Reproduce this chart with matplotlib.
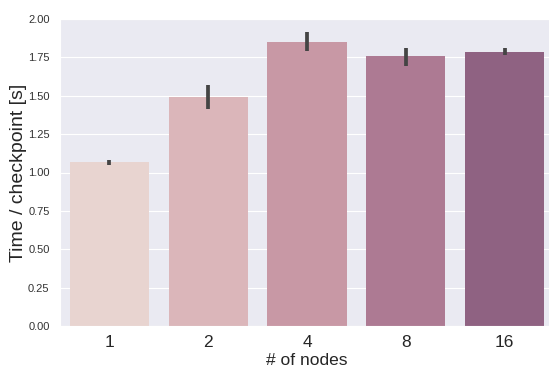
import matplotlib.pyplot as plt
import seaborn as sns
import numpy as np

sns.set_style("darkgrid")
plt.rcParams["font.family"] = ["Liberation Sans", "DejaVu Sans"]

# Mean checkpoint time per node count, with CI bounds
nodes = ["1", "2", "4", "8", "16"]
mean_time = [1.068, 1.492, 1.850, 1.759, 1.785]
ci_low = [1.048, 1.414, 1.790, 1.692, 1.763]
ci_high = [1.082, 1.570, 1.913, 1.813, 1.809]
colors = ["#e8d4d0", "#dbb6ba", "#c898a5", "#ad7a93", "#8f6282"]

fig = plt.figure(figsize=(5.49, 3.67), dpi=100)
ax = fig.add_axes([60 / 549, 41 / 367, 494 / 549, 307 / 367])

x = np.arange(len(nodes))
ax.bar(x, mean_time, width=0.8, color=colors, linewidth=0, zorder=2)
ax.vlines(x, ci_low, ci_high, color="#444444", linewidth=2.7,
          capstyle="butt", zorder=3)

ax.set_xlim(-0.5, len(nodes) - 0.5)
ax.set_ylim(0, 2.0)
ax.set_yticks(np.arange(0, 2.01, 0.25))
ax.set_xticks(x)
ax.set_xticklabels(nodes, fontsize=12.5)
ax.tick_params(axis="y", labelsize=8, pad=4, labelcolor="#333333")
ax.tick_params(axis="x", pad=3, labelcolor="#262626")
ax.xaxis.grid(False)
ax.set_xlabel("# of nodes", fontsize=12.5, labelpad=2, color="#262626")
ax.set_ylabel("Time / checkpoint [s]", fontsize=14, labelpad=1, color="#262626")

fig.savefig("out.png", dpi=100)
